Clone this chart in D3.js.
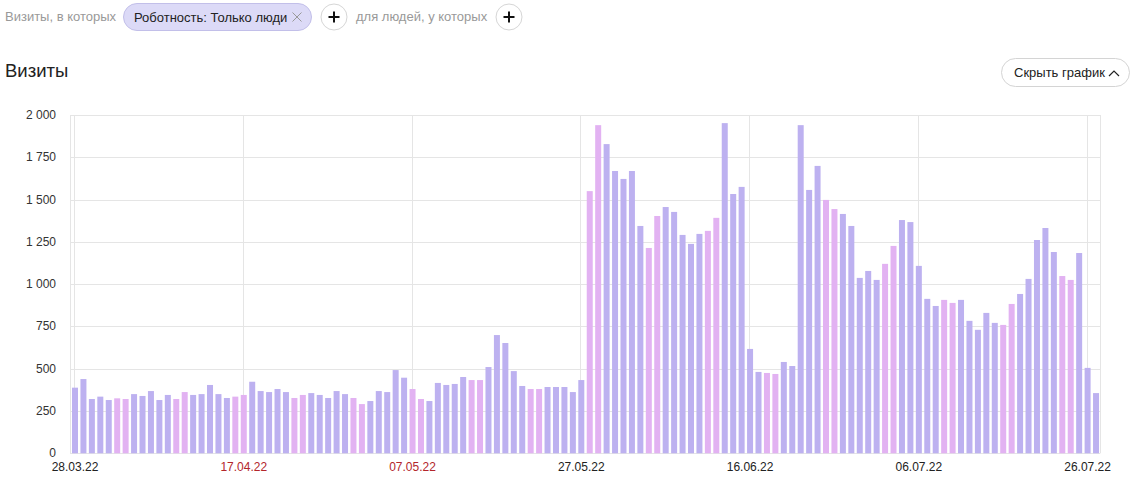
<!DOCTYPE html>
<html><head><meta charset="utf-8">
<script src="https://cdn.jsdelivr.net/npm/d3@7"></script>
<style>
body{margin:0;background:#fff;}
svg{display:block;font-family:"Liberation Sans",Arial,sans-serif;}
</style></head>
<body>
<svg id="c" width="1139" height="501"></svg>
<script>
// ---- data ----
const startDate = "2022-03-28";
const visits = [
388,439,321,335,315,325,321,350,339,368,315,345,321,362,345,350,404,350,327,335,
345,423,368,362,380,362,327,345,356,345,327,368,350,327,291,309,368,362,492,447,
380,321,309,416,404,410,451,433,433,510,699,652,486,398,380,380,392,392,392,362,
433,1550,1940,1828,1669,1622,1669,1344,1214,1403,1456,1427,1291,1238,1297,1315,1392,1952,1533,1575,
617,481,475,469,540,516,1940,1557,1699,1498,1444,1415,1344,1037,1078,1025,1120,1226,1379,1367,
1108,913,871,907,889,907,783,730,830,771,759,883,942,1031,1261,1332,1190,1048,1025,1184,
505,356];
const xTickLabels = ["28.03.22","17.04.22","07.05.22","27.05.22","16.06.22","06.07.22","26.07.22"];
const xTickHoliday = [false,true,true,false,false,false,false];
const yTicks = [0,250,500,750,1000,1250,1500,1750,2000];

const parse = d3.timeParse("%Y-%m-%d");
const parseTick = d3.timeParse("%d.%m.%y");
const days = d3.timeDay.range(parse(startDate), d3.timeDay.offset(parse(startDate), visits.length));
const data = days.map((d,i)=>({date:d, v:visits[i], weekend: d.getDay()===0 || d.getDay()===6}));

const svg = d3.select("#c");
const plotL = 70, plotR = 1100, plotT = 115, plotB = 453.3;

const x = d3.scaleTime().domain([parse(startDate), parseTick("26.07.22")]).range([75, 1087.6]);
const y = d3.scaleLinear().domain([0,2000]).range([plotB, plotT]);

// ---- header ----
svg.append("text").attr("x",5).attr("y",21).attr("font-size",13).attr("fill","#999").text("Визиты, в которых");
svg.append("rect").attr("x",123.5).attr("y",3.5).attr("width",188).attr("height",27).attr("rx",13.5)
  .attr("fill","#dcdaf7").attr("stroke","#c2bfe9");
svg.append("text").attr("x",134).attr("y",21.5).attr("font-size",13).attr("fill","#222").text("Роботность: Только люди");
const cx = 297, cy = 17;
svg.append("path").attr("d",`M${cx-4.5},${cy-4.5}L${cx+4.5},${cy+4.5}M${cx+4.5},${cy-4.5}L${cx-4.5},${cy+4.5}`)
  .attr("stroke","#999").attr("stroke-width",1);
function plus(px,py){
  svg.append("circle").attr("cx",px).attr("cy",py).attr("r",13).attr("fill","#fff").attr("stroke","#d6d6d6");
  svg.append("path").attr("d",`M${px-5.5},${py}H${px+5.5}M${px},${py-5.5}V${py+5.5}`).attr("stroke","#111").attr("stroke-width",2);
}
plus(334,17);
svg.append("text").attr("x",356).attr("y",21).attr("font-size",13).attr("fill","#999").text("для людей, у которых");
plus(509,17);

svg.append("text").attr("x",5).attr("y",77).attr("font-size",18.5).attr("fill","#222").text("Визиты");

svg.append("rect").attr("x",1001.5).attr("y",58.5).attr("width",128).attr("height",28).attr("rx",14)
  .attr("fill","#fff").attr("stroke","#d4d4d4");
svg.append("text").attr("x",1014).attr("y",77).attr("font-size",13).attr("fill","#222").text("Скрыть график");
svg.append("path").attr("d","M1109,76L1114,71L1119,76").attr("fill","none").attr("stroke","#222").attr("stroke-width",1.2);

// ---- grid ----
const fmt = v => v>=1000 ? d3.format(",")(v).replace(",","\u00a0") : String(v);
const gy = svg.append("g");
gy.selectAll("line").data(yTicks).join("line")
  .attr("x1",plotL).attr("x2",plotR).attr("y1",d=>Math.round(y(d))+0.5).attr("y2",d=>Math.round(y(d))+0.5)
  .attr("stroke","#e5e5e5");
gy.selectAll("text").data(yTicks).join("text")
  .attr("x",56).attr("y",d=>y(d)+4).attr("text-anchor","end").attr("font-size",12).attr("fill","#333")
  .text(fmt);

const tickDates = xTickLabels.map(parseTick);
const gx = svg.append("g");
gx.selectAll("line").data(tickDates).join("line")
  .attr("x1",d=>Math.round(x(d))-0.5).attr("x2",d=>Math.round(x(d))-0.5).attr("y1",plotT).attr("y2",plotB)
  .attr("stroke","#e5e5e5");
[plotL, plotR].forEach(px=>svg.append("line").attr("x1",px+0.5).attr("x2",px+0.5).attr("y1",plotT).attr("y2",plotB).attr("stroke","#e5e5e5"));

// ---- bars ----
const bw = 6;
svg.append("g").selectAll("rect").data(data).join("rect")
  .attr("x",d=>x(d.date)-bw/2).attr("width",bw)
  .attr("y",d=>y(d.v)).attr("height",d=>y(0)-y(d.v))
  .attr("fill",d=>d.weekend ? "#e2b2f2" : "#bdb1f0");

// ---- x labels ----
gx.selectAll("text").data(tickDates).join("text")
  .attr("x",d=>x(d)).attr("y",471).attr("text-anchor","middle").attr("font-size",12)
  .attr("fill",(d,i)=>xTickHoliday[i] ? "#b3262b" : "#222")
  .text((d,i)=>xTickLabels[i]);
</script>
</body></html>
